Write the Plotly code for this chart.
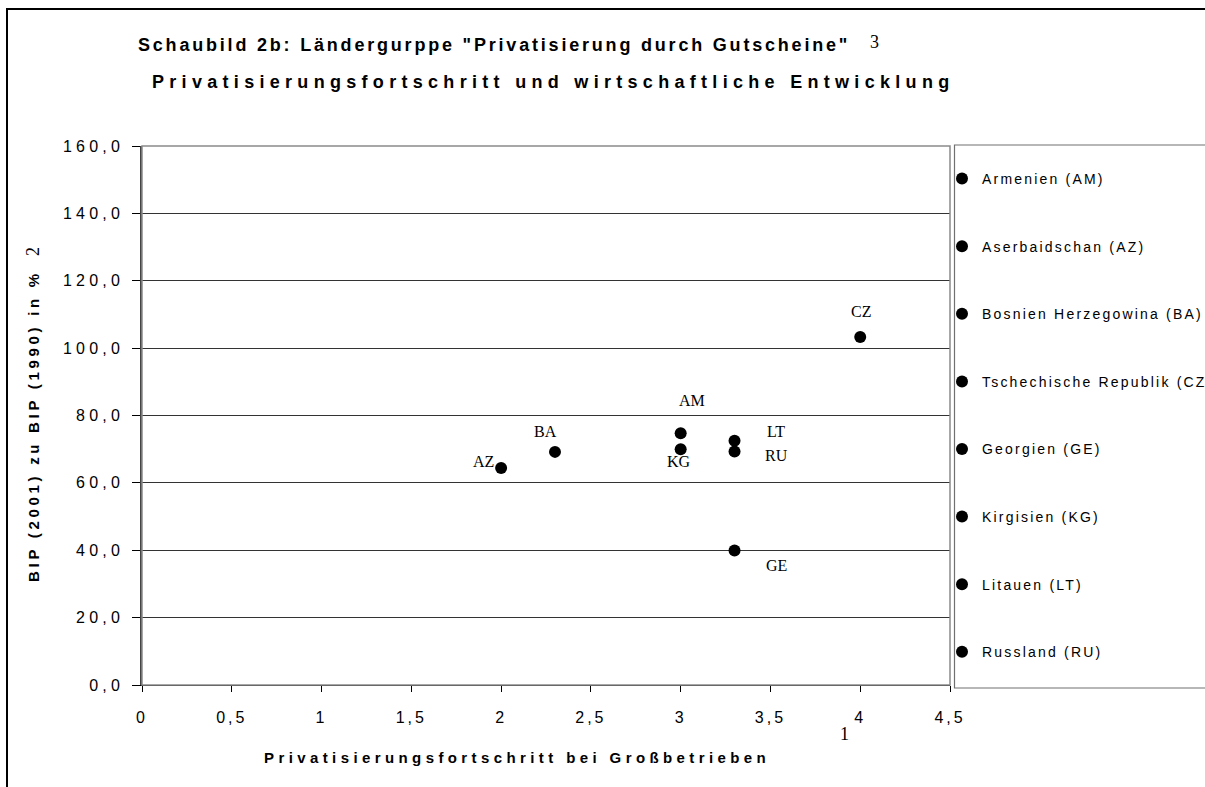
import plotly.graph_objects as go

# ---------------- data ----------------
codes = ["AM", "AZ", "BA", "CZ", "GE", "KG", "LT", "RU"]
names = ["Armenien (AM)", "Aserbaidschan (AZ)", "Bosnien Herzegowina (BA)",
         "Tschechische Republik (CZ)", "Georgien (GE)", "Kirgisien (KG)",
         "Litauen (LT)", "Russland (RU)"]
privatisierung = [3.0, 2.0, 2.3, 4.0, 3.3, 3.0, 3.3, 3.3]
bip_index = [74.7, 64.4, 69.2, 103.3, 39.9, 70.0, 72.5, 69.3]

x_tickvals = [0, 0.5, 1, 1.5, 2, 2.5, 3, 3.5, 4, 4.5]
x_ticklabels = ["0", "0,5", "1", "1,5", "2", "2,5", "3", "3,5", "4", "4,5"]
y_tickvals = [0, 20, 40, 60, 80, 100, 120, 140, 160]
y_ticklabels = ["0,0", "20,0", "40,0", "60,0", "80,0", "100,0", "120,0", "140,0", "160,0"]

title_line1 = 'Schaubild 2b: Ländergurppe "Privatisierung durch Gutscheine"'
title_line2 = "Privatisierungsfortschritt und wirtschaftliche Entwicklung"
x_title = "Privatisierungsfortschritt bei Großbetrieben"
y_title = "BIP (2001) zu BIP (1990) in %"

# ---------------- style ----------------
SANS = "Liberation Sans, Arial, sans-serif"
SERIF = "Liberation Serif, Times New Roman, serif"
# label offsets in pixels (dx right, dy down)
label_offsets = {"AM": (11, -33), "AZ": (-18, -7), "BA": (-9, -20), "CZ": (1, -26),
                 "GE": (42, 15), "KG": (-2, 12), "LT": (41, -9), "RU": (42, 4)}


def spaced(t, px):
    return f'<span style="letter-spacing:{px}px">{t}</span>'


fig = go.Figure()
for c, n, xv, yv in zip(codes, names, privatisierung, bip_index):
    fig.add_trace(go.Scatter(
        x=[xv], y=[yv], mode="markers", name=spaced(n, 2.2), legendgroup=c,
        marker=dict(color="black", size=12, symbol="circle"),
        hoverinfo="skip"))
    dx, dy = label_offsets[c]
    fig.add_annotation(x=xv, y=yv, xref="x", yref="y", text=c, showarrow=False,
                       xshift=dx, yshift=-dy,
                       font=dict(family=SERIF, size=16, color="black"))

L, R, T, B = 142, 950, 146, 685
W, H = 1205, 787


def px_x(p):
    return (p - L) / (R - L)


def px_y(p):
    return (B - p) / (B - T)


annos = [
    dict(text=spaced("<b>%s</b>" % title_line1, 2.8), x=px_x(136), y=px_y(45), xanchor="left",
         font=dict(family=SANS, size=18, color="black")),
    dict(text=spaced("<b>%s</b>" % title_line2, 5.3), x=px_x(150), y=px_y(82), xanchor="left",
         font=dict(family=SANS, size=18, color="black")),
    dict(text="3", x=px_x(874), y=px_y(42), xanchor="center",
         font=dict(family=SERIF, size=18, color="black")),
    dict(text=spaced("<b>%s</b>" % x_title, 4.4), x=px_x(517), y=px_y(757), xanchor="center",
         font=dict(family=SANS, size=15, color="black")),
    dict(text="1", x=px_x(844), y=px_y(734), xanchor="center",
         font=dict(family=SERIF, size=18, color="black")),
    dict(text=spaced("<b>%s</b>" % y_title, 3.7), x=px_x(33), y=px_y(426), textangle=-90,
         xanchor="center", font=dict(family=SANS, size=15, color="black")),
    dict(text="2", x=px_x(33), y=px_y(252), textangle=-90, xanchor="center",
         font=dict(family=SERIF, size=18, color="black")),
]
for a in annos:
    fig.add_annotation(xref="paper", yref="paper", showarrow=False, yanchor="middle", **a)

shapes = [
    # outer frame
    dict(type="rect", xref="paper", yref="paper", x0=px_x(7), x1=px_x(1230),
         y0=px_y(820), y1=px_y(9), line=dict(color="black", width=2)),
    # plot border
    dict(type="rect", xref="paper", yref="paper", x0=0, x1=1, y0=0, y1=1,
         line=dict(color="#8a8a8a", width=1.5)),
    # legend box
    dict(type="rect", xref="paper", yref="paper", x0=px_x(954.5), x1=px_x(1240),
         y0=px_y(688), y1=px_y(145), line=dict(color="#707070", width=1.2)),
]

fig.update_layout(
    width=W, height=H,
    margin=dict(l=L, r=W - R, t=T, b=H - B, pad=0, autoexpand=False),
    paper_bgcolor="white", plot_bgcolor="white",
    showlegend=True,
    shapes=shapes,
    font=dict(family=SANS, color="black"),
    legend=dict(x=px_x(942), y=px_y(163), xanchor="left", yanchor="top",
                traceorder="grouped", tracegroupgap=46.4,
                bgcolor="rgba(0,0,0,0)", borderwidth=0,
                font=dict(family=SANS, size=14, color="black")),
    xaxis=dict(range=[0, 4.5], tickmode="array", tickvals=x_tickvals,
               ticktext=[spaced(t, 3) for t in x_ticklabels],
               showgrid=False, zeroline=False, showline=True, linecolor="black", linewidth=1,
               ticks="outside", ticklen=6, tickcolor="black", ticklabelstandoff=12,
               tickfont=dict(family=SANS, size=16, color="black")),
    yaxis=dict(range=[0, 160], tickmode="array", tickvals=y_tickvals,
               ticktext=[spaced(t, 4.2) for t in y_ticklabels],
               showgrid=True, gridcolor="#333333", gridwidth=1, zeroline=False,
               showline=True, linecolor="#444444", linewidth=1.5,
               ticks="outside", ticklen=8, tickcolor="black", ticklabelstandoff=5,
               tickfont=dict(family=SANS, size=16, color="black")),
)

fig.write_html("out.html", config={"displayModeBar": False},
               post_script="document.body.style.margin='0px';document.body.style.overflow='hidden';")
